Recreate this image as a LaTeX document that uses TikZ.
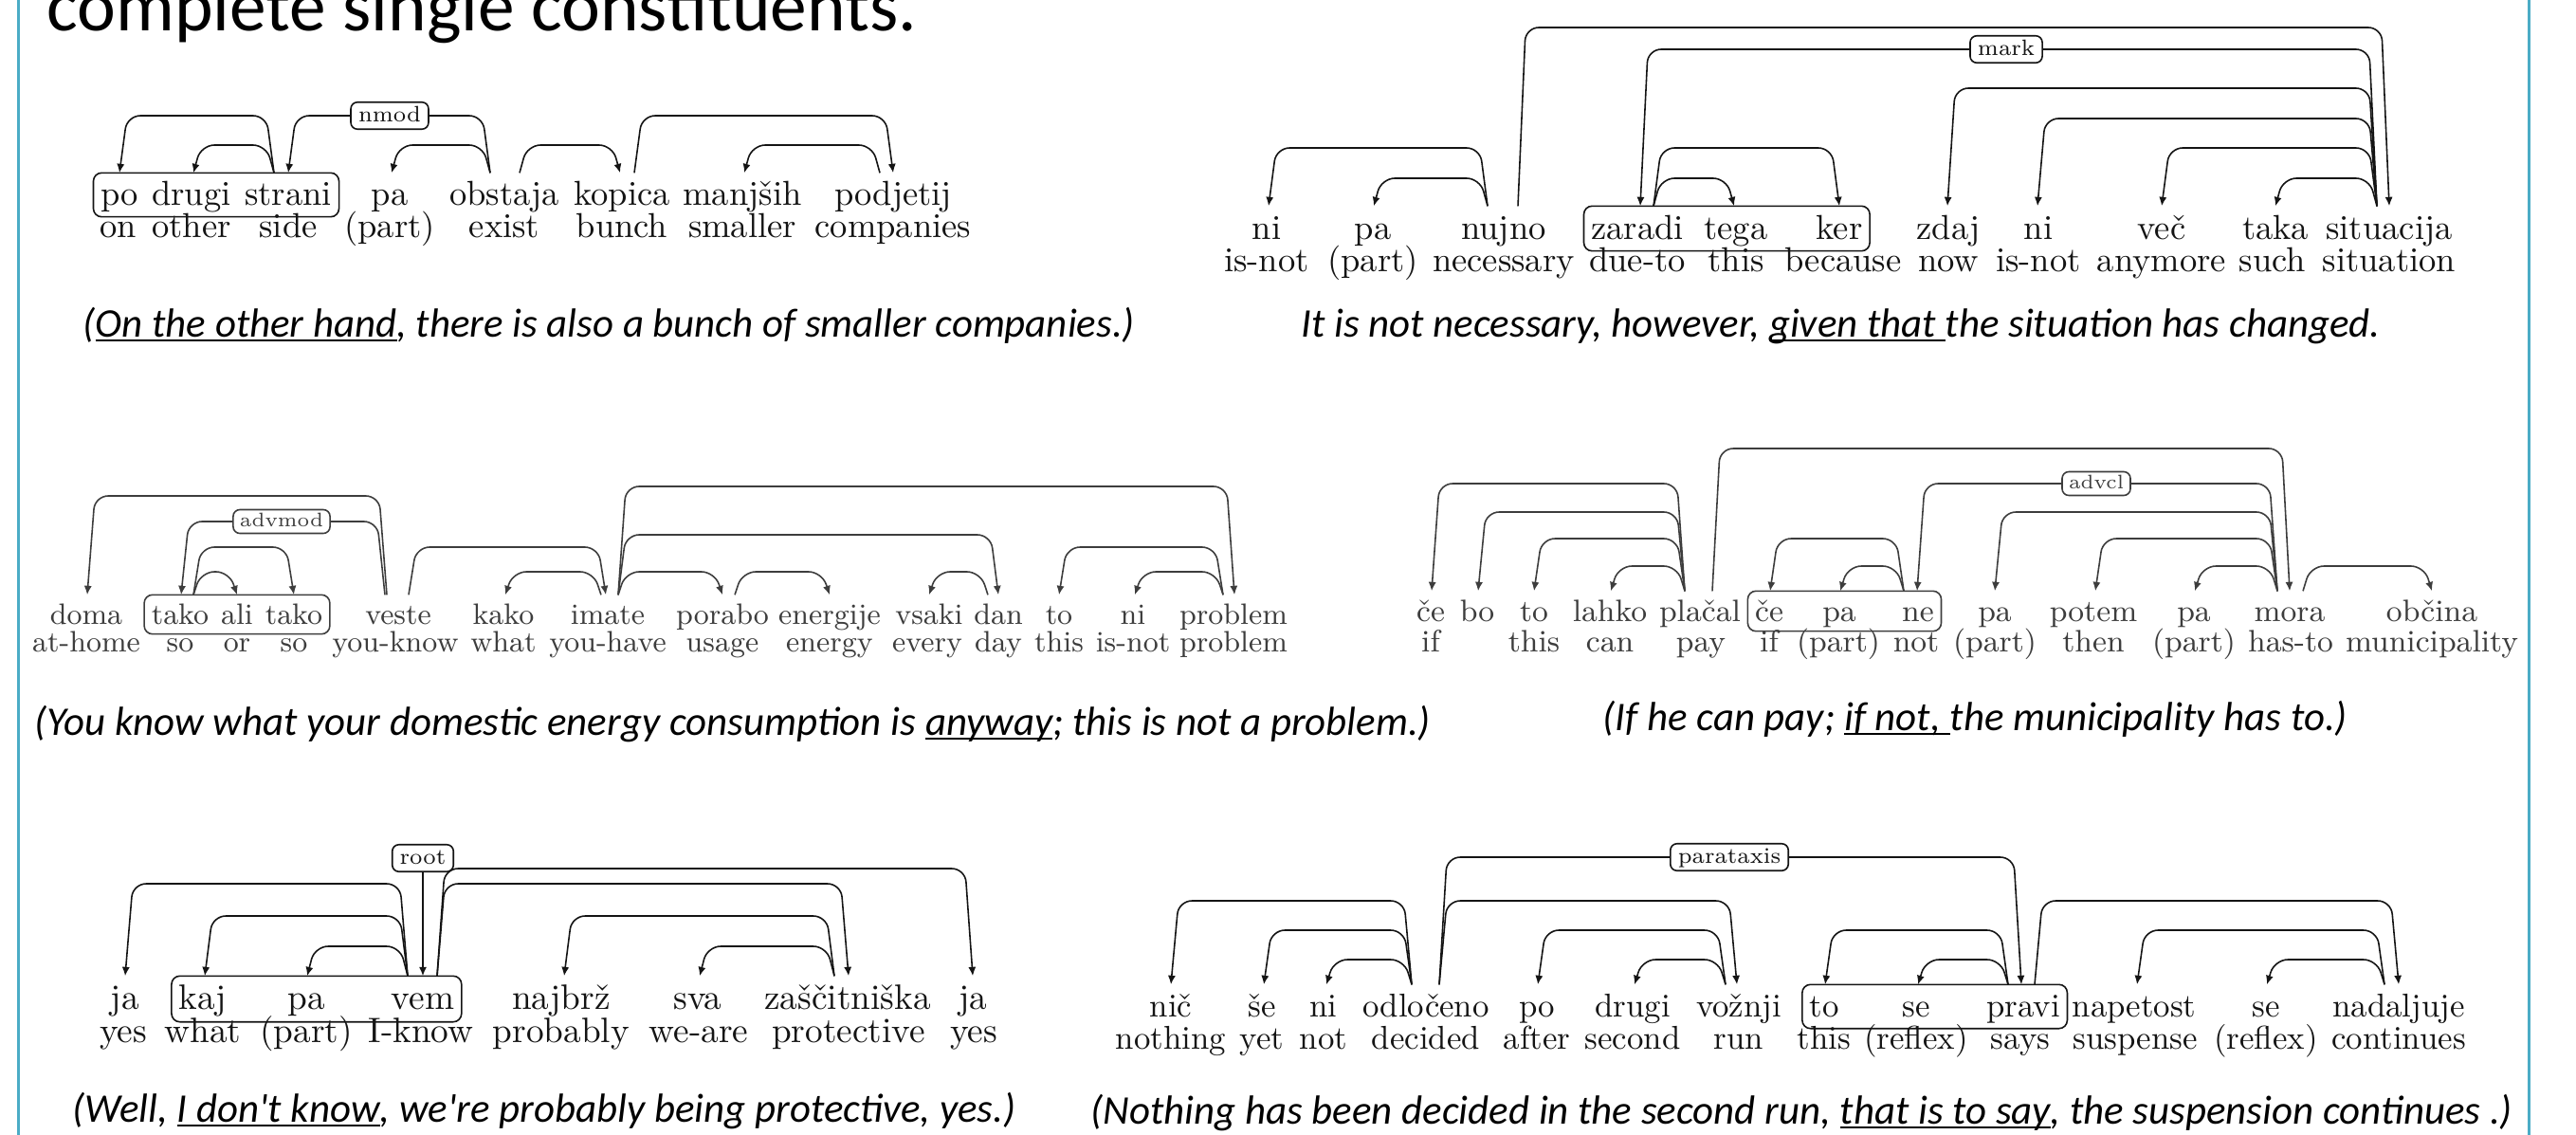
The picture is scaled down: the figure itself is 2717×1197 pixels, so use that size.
\documentclass[tikz,border=0pt]{standalone}
\usepackage{fontspec}
\newfontfamily\capfont{Carlito}
\usetikzlibrary{arrows.meta,fit,calc}
\definecolor{frameteal}{RGB}{75,172,198}
\colorlet{inkA}{black!92}
\colorlet{inkB}{black!76}
\colorlet{depcol}{inkA}
\def\DepSlant{2.3pt}
\newcommand\DepL[5]{\draw[dep] let \p1=([xshift={#2*0.1mm}]#1.north), \p2=([xshift={#4*0.1mm}]#3.north), \p3=(0,#5) in (\p1) -- (\x1-\DepSlant,\y3) -- (\x2+\DepSlant,\y3) -- (\p2);}
\newcommand\DepR[5]{\draw[dep] let \p1=([xshift={#2*0.1mm}]#1.north), \p2=([xshift={#4*0.1mm}]#3.north), \p3=(0,#5) in (\p1) -- (\x1+\DepSlant,\y3) -- (\x2-\DepSlant,\y3) -- (\p2);}
\newcommand\capul[1]{\setbox0=\hbox{#1}\rlap{\rule[-0.45mm]{\wd0}{0.17mm}}\box0}
\tikzset{
 dep/.style={draw=depcol, line width=0.45pt, rounded corners=4pt, -{Latex[length=2.7pt,width=2.3pt]}},
 cbox/.style={draw=depcol, line width=0.45pt, rounded corners=2.5pt, inner xsep=0.7mm, inner ysep=0pt},
 lab/.style={draw=depcol, fill=white, line width=0.45pt, rounded corners=2pt, inner xsep=0.8mm, inner ysep=0.35mm, text height=1.7mm, text depth=0.45mm, font=\fontsize{6.7}{8}\selectfont, text=depcol},
 labs/.style={lab, font=\fontsize{5.9}{7}\selectfont, text height=1.5mm, text depth=0.4mm, inner ysep=0.3mm, inner xsep=0.7mm},
 wbase/.style={anchor=base, inner sep=0pt},
 w1/.style={wbase, text height=3.3mm, text depth=1.2mm, font=\fontsize{10.4}{12}\selectfont, text=inkA},
 w2/.style={wbase, text height=3.4mm, text depth=1.2mm, font=\fontsize{10.4}{12}\selectfont, text=inkA},
 w3/.style={wbase, text height=3.0mm, text depth=1.0mm, font=\fontsize{8.85}{10}\selectfont, text=inkB},
 w4/.style={wbase, text height=3.1mm, text depth=1.0mm, font=\fontsize{9.3}{11}\selectfont, text=inkB},
 w5/.style={wbase, text height=3.4mm, text depth=1.3mm, font=\fontsize{10.6}{12}\selectfont, text=inkA},
 w6/.style={wbase, text height=3.3mm, text depth=1.2mm, font=\fontsize{9.9}{12}\selectfont, text=inkA},
 capt/.style={anchor=base west, inner sep=0pt, font=\capfont\itshape\fontsize{12.2}{14}\selectfont},
 ttl/.style={anchor=base west, inner sep=0pt, font=\capfont\fontsize{22}{26}\selectfont},
 frame/.style={draw=frameteal, line width=0.3mm},
}
\begin{document}
\begin{tikzpicture}[x=0.1mm, y=-0.1mm]
\useasboundingbox (0,0) rectangle (2717,1197);
\fill[white] (0,0) rectangle (2717,1197);
\draw[frame] (19,0) -- (19,1197);
\draw[frame] (2667,0) -- (2667,1197);
\node[ttl] (title) at (49,33) {complete single constituents.};

% ---------------- Panel 1
\node[w1] (a1) at (126,216) {po};
\node[w1] (a2) at (202,216) {drugi};
\node[w1] (a3) at (304,216) {strani};
\node[w1] (a4) at (411,216) {pa};
\node[w1] (a5) at (532,216) {obstaja};
\node[w1] (a6) at (656,216) {kopica};
\node[w1] (a7) at (783,216) {manjših};
\node[w1] (a8) at (942,216) {podjetij};
\node[w1] (a1g) at (125,251) {on};
\node[w1] (a2g) at (202,251) {other};
\node[w1] (a3g) at (304,251) {side};
\node[w1] (a4g) at (411,251) {(part)};
\node[w1] (a5g) at (532,251) {exist};
\node[w1] (a6g) at (656,251) {bunch};
\node[w1] (a7g) at (783,251) {smaller};
\node[w1] (a8g) at (942,251) {companies};
\node[cbox, fit=(a1)(a3)] (abox) {};
\DepL{a3}{-15}{a1}{0}{122}
\DepL{a3}{-15}{a2}{2}{153}
\DepL{a5}{-15}{a3}{0}{122}
\DepL{a5}{-15}{a4}{2}{153}
\DepR{a5}{16}{a6}{-2}{153}
\DepR{a6}{13}{a8}{0}{122}
\DepL{a8}{-14}{a7}{2}{153}
\node[lab] (anmod) at (411,122) {nmod};
\node[capt] (acap) at (87,355) {(\capul{On the other hand}, there is also a bunch of smaller companies.)};

% ---------------- Panel 2
\node[w2] (b1) at (1336,252) {ni};
\node[w2] (b2) at (1448,252) {pa};
\node[w2] (b3) at (1586,252) {nujno};
\node[w2] (b4) at (1727,252) {zaradi};
\node[w2] (b5) at (1831,252) {tega};
\node[w2] (b6) at (1940,252) {ker};
\node[w2] (b7) at (2055,252) {zdaj};
\node[w2] (b8) at (2150,252) {ni};
\node[w2] (b9) at (2280,252) {več};
\node[w2] (b10) at (2400,252) {taka};
\node[w2] (b11) at (2520,252) {situacija};
\node[w2] (b1g) at (1336,287) {is-not};
\node[w2] (b2g) at (1448,287) {(part)};
\node[w2] (b3g) at (1586,287) {necessary};
\node[w2] (b4g) at (1727,287) {due-to};
\node[w2] (b5g) at (1831,287) {this};
\node[w2] (b6g) at (1944,287) {because};
\node[w2] (b7g) at (2055,287) {now};
\node[w2] (b8g) at (2150,287) {is-not};
\node[w2] (b9g) at (2280,287) {anymore};
\node[w2] (b10g) at (2397,287) {such};
\node[w2] (b11g) at (2520,287) {situation};
\node[cbox, fit=(b4)(b6)] (bbox) {};
\DepL{b3}{-17}{b1}{2}{156}
\DepL{b3}{-17}{b2}{1}{188}
\DepR{b3}{15}{b11}{0}{29}
\DepL{b11}{-13}{b4}{3}{52}
\DepR{b4}{17}{b5}{-2}{188}
\DepR{b4}{17}{b6}{0}{156}
\DepL{b11}{-13}{b7}{-1}{93}
\DepL{b11}{-13}{b8}{-1}{125}
\DepL{b11}{-13}{b9}{0}{156}
\DepL{b11}{-13}{b10}{0}{188}
\node[lab] (bmark) at (2116,52) {mark};
\node[capt] (bcap) at (1372,355) {It is not necessary, however, \capul{given that }the situation has changed.};

% ---------------- Panel 3
\begin{scope}
\colorlet{depcol}{inkB}
\node[w3] (c1) at (91,658) {doma};
\node[w3] (c2) at (190,658) {tako};
\node[w3] (c3) at (250,658) {ali};
\node[w3] (c4) at (310,658) {tako};
\node[w3] (c5) at (420,658) {veste};
\node[w3] (c6) at (531,658) {kako};
\node[w3] (c7) at (641,658) {imate};
\node[w3] (c8) at (762,658) {porabo};
\node[w3] (c9) at (875,658) {energije};
\node[w3] (c10) at (980,658) {vsaki};
\node[w3] (c11) at (1053,658) {dan};
\node[w3] (c12) at (1117,658) {to};
\node[w3] (c13) at (1195,658) {ni};
\node[w3] (c14) at (1301,658) {problem};
\node[w3] (c1g) at (91,687) {at-home};
\node[w3] (c2g) at (190,687) {so};
\node[w3] (c3g) at (250,687) {or};
\node[w3] (c4g) at (310,687) {so};
\node[w3] (c5g) at (417,687) {you-know};
\node[w3] (c6g) at (531,687) {what};
\node[w3] (c7g) at (641,687) {you-have};
\node[w3] (c8g) at (762,687) {usage};
\node[w3] (c9g) at (875,687) {energy};
\node[w3] (c10g) at (978,687) {every};
\node[w3] (c11g) at (1053,687) {day};
\node[w3] (c12g) at (1117,687) {this};
\node[w3] (c13g) at (1195,687) {is-not};
\node[w3] (c14g) at (1301,687) {problem};
\node[cbox, fit=(c2)(c4)] (cbox1) {};
\DepL{c5}{-12}{c1}{1}{523}
\DepL{c5}{-14}{c2}{1}{550}
\DepR{c2}{14}{c3}{0}{603}
\DepR{c2}{14}{c4}{0}{577}
\DepR{c5}{11}{c7}{-2}{577}
\DepL{c7}{-7}{c6}{2}{603}
\DepR{c7}{11}{c8}{0}{603}
\DepR{c7}{11}{c11}{0}{564}
\DepR{c7}{11}{c14}{1}{513}
\DepR{c8}{13}{c9}{0}{603}
\DepL{c11}{-11}{c10}{0}{603}
\DepL{c14}{-11}{c12}{0}{577}
\DepL{c14}{-11}{c13}{2}{603}
\node[labs] (cadv) at (297,550) {advmod};
\end{scope}
\node[capt] (ccap) at (36,775) {(You know what your domestic energy consumption is \capul{anyway}; this is not a problem.)};

% ---------------- Panel 4
\begin{scope}
\colorlet{depcol}{inkB}
\node[w4] (d1) at (1509,655) {če};
\node[w4] (d2) at (1558,655) {bo};
\node[w4] (d3) at (1618,655) {to};
\node[w4] (d4) at (1698,655) {lahko};
\node[w4] (d5) at (1793,655) {plačal};
\node[w4] (d6) at (1866,655) {če};
\node[w4] (d7) at (1940,655) {pa};
\node[w4] (d8) at (2023,655) {ne};
\node[w4] (d9) at (2104,655) {pa};
\node[w4] (d10) at (2208,655) {potem};
\node[w4] (d11) at (2314,655) {pa};
\node[w4] (d12) at (2415,655) {mora};
\node[w4] (d13) at (2565,655) {občina};
\node[w4] (d1g) at (1509,687) {if};
\node[w4] (d3g) at (1618,687) {this};
\node[w4] (d4g) at (1698,687) {can};
\node[w4] (d5g) at (1794,687) {pay};
\node[w4] (d6g) at (1866,687) {if};
\node[w4] (d7g) at (1939,687) {(part)};
\node[w4] (d8g) at (2021,687) {not};
\node[w4] (d9g) at (2104,687) {(part)};
\node[w4] (d10g) at (2208,687) {then};
\node[w4] (d11g) at (2314,687) {(part)};
\node[w4] (d12g) at (2416,687) {has-to};
\node[w4] (d13g) at (2565,687) {municipality};
\node[cbox, fit=(d6)(d8)] (dbox) {};
\DepL{d5}{-16}{d1}{1}{510}
\DepL{d5}{-16}{d2}{1}{540}
\DepL{d5}{-16}{d3}{0}{568}
\DepL{d5}{-16}{d4}{1}{597}
\DepR{d5}{13}{d12}{0}{473}
\DepL{d12}{-13}{d8}{-1}{510}
\DepL{d8}{-15}{d6}{1}{568}
\DepL{d8}{-15}{d7}{1}{597}
\DepL{d12}{-13}{d9}{0}{540}
\DepL{d12}{-13}{d10}{2}{568}
\DepL{d12}{-13}{d11}{1}{597}
\DepR{d12}{14}{d13}{0}{597}
\node[labs] (dadvcl) at (2211,510) {advcl};
\end{scope}
\node[capt] (dcap) at (1690,770) {(If he can pay; \capul{if not, }the municipality has to.)};

% ---------------- Panel 5
\node[w5] (e1) at (132,1064) {ja};
\node[w5] (e2) at (214,1064) {kaj};
\node[w5] (e3) at (323,1064) {pa};
\node[w5] (e4) at (446,1064) {vem};
\node[w5] (e5) at (592,1064) {najbrž};
\node[w5] (e6) at (736,1064) {sva};
\node[w5] (e7) at (894,1064) {zaščitniška};
\node[w5] (e8) at (1026,1064) {ja};
\node[w5] (e1g) at (130,1099) {yes};
\node[w5] (e2g) at (214,1099) {what};
\node[w5] (e3g) at (323,1099) {(part)};
\node[w5] (e4g) at (444,1099) {I-know};
\node[w5] (e5g) at (592,1099) {probably};
\node[w5] (e6g) at (737,1099) {we-are};
\node[w5] (e7g) at (895,1099) {protective};
\node[w5] (e8g) at (1027,1099) {yes};
\node[cbox, fit=(e2)(e4)] (ebox) {};
\node[lab] (eroot) at (446,905) {root};
\DepL{e4}{-16}{e1}{0}{932}
\DepL{e4}{-16}{e2}{2}{966}
\DepL{e4}{-16}{e3}{1}{998}
\DepR{e4}{15}{e8}{0}{916}
\DepR{e4}{15}{e7}{1}{932}
\DepL{e7}{-14}{e5}{3}{966}
\DepL{e7}{-14}{e6}{2}{998}
\draw[dep] (eroot) -- (e4);
\node[capt] (ecap) at (76,1183) {(Well, \capul{I don't know}, we're probably being protective, yes.)};

% ---------------- Panel 6
\node[w6] (f1) at (1235,1072) {nič};
\node[w6] (f2) at (1331,1072) {še};
\node[w6] (f3) at (1396,1072) {ni};
\node[w6] (f4) at (1504,1072) {odločeno};
\node[w6] (f5) at (1621,1072) {po};
\node[w6] (f6) at (1722,1072) {drugi};
\node[w6] (f7) at (1834,1072) {vožnji};
\node[w6] (f8) at (1924,1072) {to};
\node[w6] (f9) at (2021,1072) {se};
\node[w6] (f10) at (2134,1072) {pravi};
\node[w6] (f11) at (2251,1072) {napetost};
\node[w6] (f12) at (2390,1072) {se};
\node[w6] (f13) at (2530,1072) {nadaljuje};
\node[w6] (f1g) at (1235,1106) {nothing};
\node[w6] (f2g) at (1331,1106) {yet};
\node[w6] (f3g) at (1396,1106) {not};
\node[w6] (f4g) at (1504,1106) {decided};
\node[w6] (f5g) at (1621,1106) {after};
\node[w6] (f6g) at (1722,1106) {second};
\node[w6] (f7g) at (1834,1106) {run};
\node[w6] (f8g) at (1924,1106) {this};
\node[w6] (f9g) at (2021,1106) {(reflex)};
\node[w6] (f10g) at (2131,1106) {says};
\node[w6] (f11g) at (2252,1106) {suspense};
\node[w6] (f12g) at (2390,1106) {(reflex)};
\node[w6] (f13g) at (2530,1106) {continues};
\node[cbox, fit=(f8)(f10)] (fbox) {};
\DepL{f4}{-15}{f1}{0}{950}
\DepL{f4}{-15}{f2}{2}{981}
\DepL{f4}{-15}{f3}{3}{1012}
\DepR{f4}{14}{f10}{-2}{904}
\DepR{f4}{14}{f7}{-2}{950}
\DepL{f7}{-14}{f5}{1}{981}
\DepL{f7}{-14}{f6}{2}{1012}
\DepL{f10}{-16}{f8}{1}{981}
\DepL{f10}{-16}{f9}{2}{1012}
\DepR{f10}{12}{f13}{0}{950}
\DepL{f13}{-15}{f11}{3}{981}
\DepL{f13}{-15}{f12}{1}{1012}
\node[lab] (fpar) at (1824,904) {parataxis};
\node[capt] (fcap) at (1150,1185) {(Nothing has been decided in the second run, \capul{that is to say}, the suspension continues .)};
\end{tikzpicture}
\end{document}
